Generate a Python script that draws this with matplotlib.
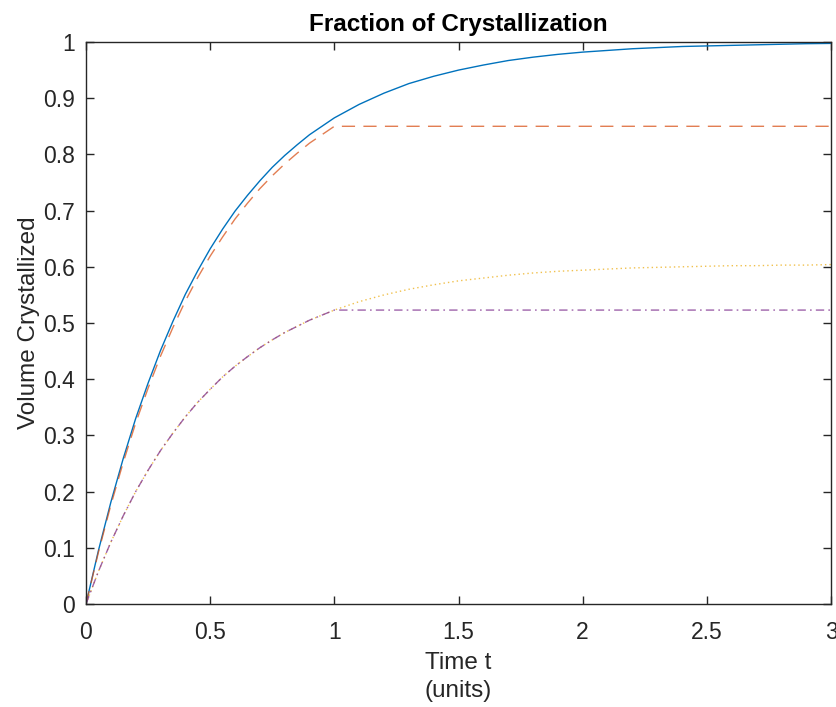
import numpy as np
import matplotlib
matplotlib.use('Agg')
import matplotlib.pyplot as plt

plt.rcParams['font.family'] = ['Liberation Sans', 'DejaVu Sans']

# time samples: finer up to t=1, coarser after
t_early = [0.00, 0.05, 0.10, 0.15, 0.20, 0.25, 0.30, 0.35, 0.40, 0.45, 0.50,
           0.55, 0.60, 0.65, 0.70, 0.75, 0.80, 0.85, 0.90, 0.95, 1.00]
t_late = [1.1, 1.2, 1.3, 1.4, 1.5, 1.6, 1.7, 1.8, 1.9, 2.0,
          2.1, 2.2, 2.3, 2.4, 2.5, 2.6, 2.7, 2.8, 2.9, 3.0]

# solid blue: full crystallization
blue_early = [0.000, 0.095, 0.181, 0.259, 0.330, 0.393, 0.451, 0.503, 0.551, 0.593, 0.632,
              0.667, 0.699, 0.727, 0.753, 0.777, 0.798, 0.817, 0.835, 0.850, 0.865]
blue_late = [0.889, 0.909, 0.926, 0.939, 0.950, 0.959, 0.967, 0.973, 0.978, 0.982,
             0.985, 0.988, 0.990, 0.992, 0.993, 0.994, 0.995, 0.996, 0.997, 0.9975]

# dashed orange: stops growing at t=1
orange_early = [0.000, 0.092, 0.176, 0.252, 0.322, 0.384, 0.441, 0.492, 0.539, 0.581, 0.619,
                0.653, 0.685, 0.713, 0.739, 0.762, 0.783, 0.802, 0.820, 0.835, 0.850]
orange_late = [0.850] * 20

# dotted yellow / dash-dot purple share the early part
low_early = [0.000, 0.058, 0.110, 0.157, 0.200, 0.238, 0.273, 0.304, 0.333, 0.359, 0.382,
             0.404, 0.423, 0.440, 0.456, 0.470, 0.483, 0.494, 0.505, 0.514, 0.523]
yellow_late = [0.538, 0.550, 0.560, 0.568, 0.575, 0.580, 0.585, 0.589, 0.592, 0.594,
               0.596, 0.598, 0.599, 0.600, 0.601, 0.602, 0.602, 0.603, 0.603, 0.604]
purple_late = [0.523] * 20

t = t_early + t_late

fig = plt.figure(figsize=(8.36, 7.07), dpi=100, facecolor='white')
ax = fig.add_axes([86 / 836, 1 - 604 / 707, 745 / 836, 562 / 707])

ax.plot(t, blue_early + blue_late, color='#0072BD', lw=1.0, ls='-')
ax.plot(t, orange_early + orange_late, color='#D95319', lw=1.0, alpha=0.75,
        ls=(0, (9.5, 6)))
ax.plot(t, low_early + yellow_late, color='#EDB120', lw=1.0, alpha=0.8,
        ls=(0, (1, 2.2)))
ax.plot(t, low_early + purple_late, color='#7E2F8E', lw=1.0, alpha=0.75,
        ls=(0, (6, 3, 1.2, 3)))

ax.set_xlim(0, 3)
ax.set_ylim(0, 1)
ax.set_xticks(np.arange(0, 3.01, 0.5))
ax.set_xticklabels(['0', '0.5', '1', '1.5', '2', '2.5', '3'])
ax.set_yticks(np.arange(0, 1.01, 0.1))
ax.set_yticklabels(['0', '0.1', '0.2', '0.3', '0.4', '0.5', '0.6', '0.7', '0.8', '0.9', '1'])

edge = '#262626'
for s in ax.spines.values():
    s.set_color(edge)
    s.set_linewidth(1.0)
ax.tick_params(direction='in', length=6, width=1.0, colors=edge, labelsize=16.5,
               top=True, right=True)
ax.tick_params(axis='x', pad=12)
ax.tick_params(axis='y', pad=8)

ax.set_title('Fraction of Crystallization', fontsize=17.5, fontweight='bold',
             color='black', pad=8)
ax.set_xlabel('Time t\n(units)', fontsize=17.5, color=edge, labelpad=6,
              linespacing=1.35)
ax.set_ylabel('Volume Crystallized', fontsize=17.5, color=edge, labelpad=2)

fig.savefig('out.png', dpi=100, facecolor='white')
